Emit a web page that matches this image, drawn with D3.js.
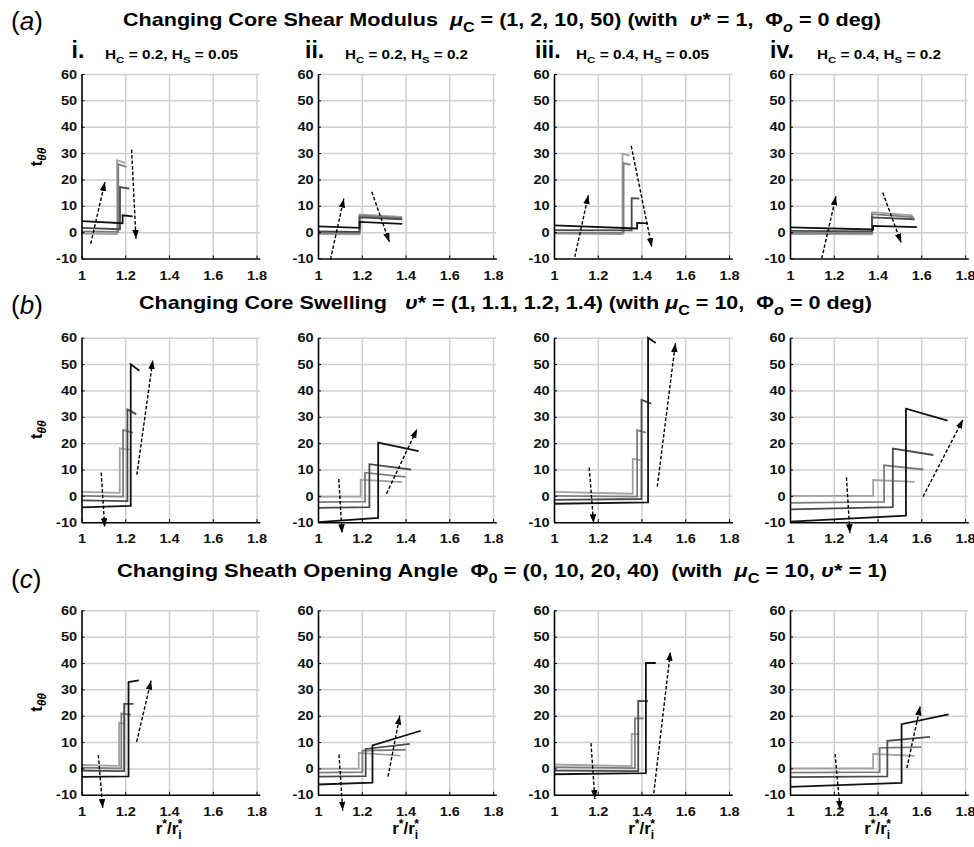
<!DOCTYPE html>
<html>
<head>
<meta charset="utf-8">
<script src="https://cdn.jsdelivr.net/npm/d3@7"></script>
<style>
  body { margin: 0; background: #fff; }
  text { font-family: "Liberation Sans", Arial, sans-serif; font-weight: bold; white-space: pre; }
</style>
</head>
<body>
<svg width="974" height="847"></svg>
<script>
// ---- data ----
const xTicks = [1, 1.2, 1.4, 1.6, 1.8];
const yTicks = [-10, 0, 10, 20, 30, 40, 50, 60];
const rowLetters = ['a', 'b', 'c'];
const panelNumerals = ['i.', 'ii.', 'iii.', 'iv.'];
const panelHc = ['0.2', '0.2', '0.4', '0.4'];
const panelHs = ['0.05', '0.2', '0.05', '0.2'];

// [text, style]  style: '' | 'i' | 'sub' | 'sub i'
const titleShear = [['Changing Core Shear Modulus  ', ''], ['μ', 'i'], ['C', 'sub'], [' = (1, 2, 10, 50) (with  ', ''],
  ['υ', 'i'], ['* = 1,  ', ''], ['Φ', ''], ['o', 'sub i'], [' = 0 deg)', '']];
const titleSwell = [['Changing Core Swelling   ', ''], ['υ', 'i'], ['* = (1, 1.1, 1.2, 1.4) (with ', ''], ['μ', 'i'], ['C', 'sub'],
  [' = 10,  ', ''], ['Φ', ''], ['o', 'sub i'], [' = 0 deg)', '']];
const titleAngle = [['Changing Sheath Opening Angle  ', ''], ['Φ', ''], ['0', 'sub'], [' = (0, 10, 20, 40)  (with  ', ''],
  ['μ', 'i'], ['C', 'sub'], [' = 10, ', ''], ['υ', 'i'], ['* = 1)', '']];

// each line: start, end of core, top of jump, end of sheath   (lightest -> black)
const shearLines = [
  [[[1, -0.6], [1.163, -0.7], [1.163, 27.3], [1.2, 26.2]],
   [[1, 0.3], [1.168, 0.1], [1.168, 25.8], [1.205, 24.8]],
   [[1, 1.6], [1.176, 1.1], [1.176, 17.1], [1.219, 16.5]],
   [[1, 4.2], [1.188, 3.4], [1.188, 6.4], [1.234, 6.0]]],
  [[[1, -0.7], [1.19, -0.8], [1.19, 6.7], [1.385, 5.8]],
   [[1, -0.3], [1.19, -0.4], [1.19, 6.2], [1.385, 5.4]],
   [[1, 0.3], [1.19, 0.1], [1.19, 5.6], [1.385, 4.9]],
   [[1, 2.2], [1.19, 1.6], [1.19, 3.9], [1.385, 3.1]]],
  [[[1, -0.6], [1.313, -0.7], [1.313, 29.8], [1.345, 29]],
   [[1, -0.2], [1.318, -0.3], [1.318, 26.2], [1.35, 25.5]],
   [[1, 0.8], [1.355, 0.7], [1.355, 12.9], [1.39, 12.7]],
   [[1, 2.6], [1.38, 1.4], [1.38, 3.5], [1.43, 3.3]]],
  [[[1, -0.7], [1.375, -0.8], [1.375, 7.6], [1.56, 6.4]],
   [[1, -0.3], [1.375, -0.4], [1.375, 6.8], [1.565, 5.7]],
   [[1, 0.5], [1.375, 0.3], [1.375, 5.6], [1.57, 4.9]],
   [[1, 1.8], [1.38, 1.0], [1.38, 2.4], [1.58, 1.9]]]
];
const shearArrows = [
  [[1.042, -4.4, 1.107, 19], [1.229, 31.3, 1.249, -2.5]],
  [[1.057, -10.4, 1.118, 12.7], [1.246, 15.3, 1.326, -3.7]],
  [[1.095, -9.4, 1.157, 14], [1.353, 32.7, 1.447, -5.6]],
  [[1.145, -10, 1.21, 13.6], [1.424, 15, 1.508, -4]]
];

const swellLines = [
  [[[1, 1.5], [1.175, 1.1], [1.175, 18], [1.22, 17.5]],
   [[1, 0], [1.19, -0.3], [1.19, 25], [1.235, 24]],
   [[1, -1.7], [1.21, -2], [1.21, 32.8], [1.25, 31]],
   [[1, -4.4], [1.225, -3.8], [1.225, 49.9], [1.265, 47.5]]],
  [[[1, -0.3], [1.195, -0.3], [1.195, 6.1], [1.385, 5.2]],
   [[1, -2.4], [1.215, -2.2], [1.215, 8.8], [1.4, 7.2]],
   [[1, -4.6], [1.235, -4.3], [1.235, 12], [1.425, 10]],
   [[1, -10], [1.275, -8.4], [1.275, 20.2], [1.46, 17]]],
  [[[1, 1.5], [1.36, 0.8], [1.36, 14], [1.395, 13.5]],
   [[1, 0], [1.38, -0.3], [1.38, 24.9], [1.42, 24]],
   [[1, -1.5], [1.4, -1.2], [1.4, 36.4], [1.445, 35]],
   [[1, -3], [1.43, -2.5], [1.43, 60], [1.465, 58]]],
  [[[1, 0], [1.38, 0], [1.38, 6], [1.57, 5.3]],
   [[1, -2.7], [1.43, -2.3], [1.43, 11.6], [1.61, 10]],
   [[1, -5.1], [1.47, -4.3], [1.47, 17.9], [1.655, 15.5]],
   [[1, -9.8], [1.53, -7.5], [1.53, 33.1], [1.72, 28.5]]]
];
const swellArrows = [
  [[1.09, 8.8, 1.106, -11.9], [1.253, 8, 1.326, 51.5]],
  [[1.095, 6.4, 1.11, -14.2], [1.313, 0.8, 1.453, 25.4]],
  [[1.161, 10.7, 1.181, -10.4], [1.472, 3.5, 1.555, 57.9]],
  [[1.258, 7, 1.274, -14.2], [1.608, -0.3, 1.791, 29]]
];

const angleLines = [
  [[[1, 1.3], [1.172, 1.0], [1.172, 17.3], [1.2, 17]],
   [[1, 0.3], [1.182, 0.0], [1.182, 20.8], [1.225, 20.4]],
   [[1, -0.8], [1.195, -1.0], [1.195, 24.5], [1.238, 24.5]],
   [[1, -3.2], [1.215, -3.0], [1.215, 32.8], [1.262, 33.4]]],
  [[[1, -0.1], [1.186, -0.1], [1.186, 5.9], [1.377, 4.9]],
   [[1, -1.6], [1.203, -1.4], [1.203, 6.8], [1.4, 7.1]],
   [[1, -3.1], [1.218, -2.9], [1.218, 7.4], [1.42, 9.3]],
   [[1, -6.1], [1.249, -5.4], [1.249, 8.7], [1.47, 14.3]]],
  [[[1, 1.5], [1.355, 0.9], [1.355, 13.1], [1.39, 13]],
   [[1, 0.5], [1.37, 0.1], [1.37, 19], [1.41, 19]],
   [[1, -0.8], [1.385, -1], [1.385, 25.6], [1.43, 25.5]],
   [[1, -2.2], [1.42, -1.8], [1.42, 40], [1.465, 40]]],
  [[[1, 0], [1.38, 0], [1.38, 5.5], [1.57, 4.8]],
   [[1, -1.6], [1.41, -1.4], [1.41, 7.8], [1.6, 8.1]],
   [[1, -3.3], [1.445, -3.0], [1.445, 10.5], [1.64, 12]],
   [[1, -7], [1.51, -5.5], [1.51, 16.8], [1.725, 20.5]]]
];
const angleArrows = [
  [[1.077, 5.1, 1.097, -15], [1.252, 10.1, 1.318, 33.3]],
  [[1.096, 5.3, 1.113, -16], [1.32, -3.1, 1.374, 20]],
  [[1.169, 9.6, 1.187, -11.6], [1.456, -9.4, 1.532, 44.3]],
  [[1.206, 5.5, 1.229, -15.7], [1.534, 0.1, 1.595, 23.5]]
];

const rowTitles = [titleShear, titleSwell, titleAngle];
const rowLines = [shearLines, swellLines, angleLines];
const rowArrows = [shearArrows, swellArrows, angleArrows];
const lineShades = ['#a2a2a2', '#7c7c7c', '#4a4a4a', '#121212'];

// ---- layout ----
const svg = d3.select('svg');
const panelW = 178.3, panelH = 184.5;
const colX = [81.5, 318, 554, 790];
const rowY = [74, 337.7, 610.3];
const titleX = [123, 139, 117], titleLen = [758, 733, 770], titleBase = [26, 309, 577];
const letterBase = [30, 314, 588];
const yLabelOff = [83, 92, 92];
const numeralDx = [-10, -13, -19, -20];
const paramDx = [23.5, 27, 22, 27], paramLen = [133, 123, 133, 124];

const x = d3.scaleLinear().domain([1, 1.815]).range([0, panelW]);
const y = d3.scaleLinear().domain([-10, 60]).range([panelH, 0]);
const line = d3.line().x(d => x(d[0])).y(d => y(d[1]));

svg.append('defs').append('marker')
    .attr('id', 'head')
    .attr('markerUnits', 'userSpaceOnUse')
    .attr('markerWidth', 10).attr('markerHeight', 7)
    .attr('refX', 9).attr('refY', 3.25)
    .attr('orient', 'auto')
  .append('path')
    .attr('d', 'M0,0 L9,3.25 L0,6.5 Z')
    .attr('fill', '#000');

function richText(t, parts, size) {
  let shift = 0;
  parts.forEach(([s, k]) => {
    const flags = k.split(' ');
    const sp = t.append('tspan').text(s);
    let want = 0;
    if (flags.includes('sub')) { want = size * 0.3; sp.attr('font-size', size * 0.75); }
    if (flags.includes('sup')) { want = -size * 0.4; sp.attr('font-size', size * 0.7); }
    if (flags.includes('i')) sp.attr('font-style', 'italic');
    if (want !== shift) { sp.attr('dy', want - shift); shift = want; }
  });
}

rowLines.forEach((panels, r) => {
  // row letter and title
  const lt = svg.append('text').attr('x', 11).attr('y', letterBase[r])
      .attr('font-size', 26).style('font-weight', 'normal');
  lt.append('tspan').text('(');
  lt.append('tspan').text(rowLetters[r]).attr('font-style', 'italic');
  lt.append('tspan').text(')');

  const tt = svg.append('text').attr('x', titleX[r]).attr('y', titleBase[r])
      .attr('font-size', 18.5)
      .attr('textLength', titleLen[r]).attr('lengthAdjust', 'spacingAndGlyphs');
  richText(tt, rowTitles[r], 18.5);

  panels.forEach((lines, c) => {
    const g = svg.append('g').attr('transform', `translate(${colX[c]},${rowY[r]})`);

    // grid
    g.append('g')
        .attr('transform', `translate(0,${panelH})`)
        .call(d3.axisBottom(x).tickValues(xTicks.slice(1)).tickSize(-panelH).tickFormat(''))
        .call(a => a.select('.domain').remove())
        .selectAll('line').attr('stroke', '#cfcfcf').attr('stroke-width', 1.5);
    g.append('g')
        .call(d3.axisLeft(y).tickValues(yTicks.slice(1)).tickSize(-panelW).tickFormat(''))
        .call(a => a.select('.domain').remove())
        .selectAll('line').attr('stroke', '#cfcfcf').attr('stroke-width', 1.5);

    // curves
    lines.forEach((pts, i) => {
      g.append('path')
          .attr('d', line(pts))
          .attr('fill', 'none')
          .attr('stroke', lineShades[i])
          .attr('stroke-width', 1.8);
    });

    // trend arrows
    rowArrows[r][c].forEach(a => {
      g.append('line')
          .attr('x1', x(a[0])).attr('y1', y(a[1]))
          .attr('x2', x(a[2])).attr('y2', y(a[3]))
          .attr('stroke', '#000')
          .attr('stroke-width', 1.4)
          .attr('stroke-dasharray', '3.5,2')
          .attr('marker-end', 'url(#head)');
    });

    // axes
    const xa = g.append('g')
        .attr('transform', `translate(0,${panelH})`)
        .call(d3.axisBottom(x).tickValues(xTicks).tickSizeInner(-3).tickSizeOuter(0)
          .tickPadding(12).tickFormat(d => String(d)));
    const ya = g.append('g')
        .call(d3.axisLeft(y).tickValues(yTicks).tickSizeInner(-3).tickSizeOuter(0)
          .tickPadding(3.9).tickFormat(d => String(d)));
    [xa, ya].forEach(a => {
      a.select('.domain').attr('stroke', '#000').attr('stroke-width', 1.6);
      a.selectAll('.tick line').attr('stroke', '#000').attr('stroke-width', 1);
      a.selectAll('.tick text')
          .attr('font-size', 13)
          .attr('font-family', '"Liberation Sans", Arial, sans-serif')
          .attr('fill', '#111')
          .attr('transform', 'scale(1.12,1)');
    });

    if (r === 0) {
      svg.append('text')
          .attr('x', colX[c] + numeralDx[c]).attr('y', 58)
          .attr('font-size', 23)
          .text(panelNumerals[c]);
      const pt = svg.append('text')
          .attr('x', colX[c] + paramDx[c]).attr('y', 59)
          .attr('font-size', 13)
          .attr('textLength', paramLen[c]).attr('lengthAdjust', 'spacingAndGlyphs');
      richText(pt, [['H', ''], ['C', 'sub'], [' = ' + panelHc[c] + ', H', ''], ['S', 'sub'], [' = ' + panelHs[c], '']], 13);
    }

    if (c === 0) {
      const yl = svg.append('text')
          .attr('transform', `translate(42,${rowY[r] + yLabelOff[r]}) rotate(-90)`)
          .attr('text-anchor', 'middle')
          .attr('font-size', 16);
      yl.append('tspan').text('t');
      yl.append('tspan').text('θθ').attr('font-style', 'italic')
          .attr('font-size', 12).attr('dy', 4);
    }

    if (r === 2) {
      const xl = svg.append('text')
          .attr('x', colX[c] + x(1.4)).attr('y', 834)
          .attr('text-anchor', 'middle')
          .attr('font-size', 17);
      xl.append('tspan').text('r');
      xl.append('tspan').text('*').attr('font-size', 12).attr('dy', -6);
      xl.append('tspan').text('/r').attr('dy', 6);
      xl.append('tspan').text('i').attr('font-size', 12).attr('dy', 5);
      xl.append('tspan').text('*').attr('font-size', 12).attr('dx', -4).attr('dy', -11);
    }
  });
});
</script>
</body>
</html>
